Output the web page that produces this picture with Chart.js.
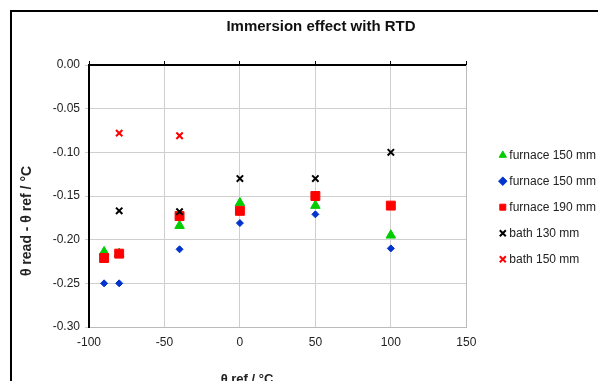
<!DOCTYPE html>
<html>
<head>
<meta charset="utf-8">
<script src="https://cdn.jsdelivr.net/npm/chart.js@4"></script>
<style>
  html, body { margin: 0; padding: 0; background: #fff; overflow: hidden; }
  #wrap { position: relative; width: 598px; height: 381px; }
  #frame { position: absolute; left: 10px; top: 10px; width: 700px; height: 500px;
           border: 2px solid #000; pointer-events: none; }
</style>
</head>
<body>
<div id="wrap">
  <canvas id="chart" width="598" height="381"></canvas>
  <div id="frame"></div>
</div>
<script>
// values
const seriesNames = ["furnace 150 mm", "furnace 150 mm", "furnace 190 mm", "bath 130 mm", "bath 150 mm"];
const tempsFurnace = [-90, -80, -40, 0, 50, 100];
const furnace150a = [-0.214, -0.216, -0.184, -0.158, -0.161, -0.195];
const furnace150b = [-0.250, -0.250, -0.211, -0.181, -0.171, -0.210];
const furnace190 = [-0.221, -0.216, -0.173, -0.167, -0.150, -0.161];
const tempsBath130 = [-80, -40, 0, 50, 100];
const bath130 = [-0.167, -0.168, -0.130, -0.130, -0.100];
const tempsBath150 = [-80, -40];
const bath150 = [-0.078, -0.081];

const xTicks = [-100, -50, 0, 50, 100, 150];
const yTicks = [0, -0.05, -0.10, -0.15, -0.20, -0.25, -0.30];

function pts(xs, ys) {
  return xs.map((x, i) => ({ x: x, y: ys[i] }));
}

Chart.defaults.font.family = "'Liberation Sans', Arial, sans-serif";
Chart.defaults.font.size = 11;
Chart.defaults.color = "#222";

const gridGray = "#cfcfcf";
const fam = "'Liberation Sans', Arial, sans-serif";

// chart title and axis titles, placed where the original has them
const texts = {
  id: "texts",
  afterDraw(chart) {
    const c = chart.ctx;
    c.save();
    c.fillStyle = "#111";
    c.textAlign = "center";
    c.textBaseline = "middle";
    c.font = "bold 15px " + fam;
    c.fillText("Immersion effect with RTD", 321, 27);
    c.fillStyle = "#222";
    c.font = "bold 13px " + fam;
    c.textBaseline = "alphabetic";
    c.fillText("θ ref / °C", 247, 383);
    c.translate(27, 221);
    c.rotate(-Math.PI / 2);
    c.textBaseline = "middle";
    c.font = "bold 14px " + fam;
    c.fillText("θ read - θ ref / °C", 0, 0);
    c.restore();
  }
};

new Chart(document.getElementById("chart"), {
  type: "scatter",
  data: {
    datasets: [
      {
        label: seriesNames[0],
        data: pts(tempsFurnace, furnace150a),
        pointStyle: "triangle",
        pointRadius: 5.5,
        backgroundColor: "#00cc00",
        borderColor: "#00cc00",
        borderWidth: 1,
        order: 5,
      },
      {
        label: seriesNames[1],
        data: pts(tempsFurnace, furnace150b),
        pointStyle: "rectRot",
        pointRadius: 3.5,
        backgroundColor: "#0033cc",
        borderColor: "#0033cc",
        borderWidth: 1,
        order: 4,
      },
      {
        label: seriesNames[2],
        data: pts(tempsFurnace, furnace190),
        pointStyle: "rect",
        pointRadius: 6.3,
        backgroundColor: "#ff0000",
        borderColor: "#ff0000",
        borderWidth: 1,
        order: 3,
      },
      {
        label: seriesNames[3],
        data: pts(tempsBath130, bath130),
        pointStyle: "crossRot",
        pointRadius: 4.5,
        backgroundColor: "#000",
        borderColor: "#000",
        borderWidth: 2,
        order: 2,
      },
      {
        label: seriesNames[4],
        data: pts(tempsBath150, bath150),
        pointStyle: "crossRot",
        pointRadius: 4.5,
        backgroundColor: "#ff0000",
        borderColor: "#ff0000",
        borderWidth: 2,
        order: 1,
      },
    ],
  },
  options: {
    responsive: false,
    animation: false,
    // legend box carries empty padding on its right, let it hang past the edge
    layout: { padding: { left: 0, right: -8, top: 0, bottom: 0 } },
    plugins: {
      title: { display: false },
      legend: {
        position: "right",
        align: "start",
        maxWidth: 140, // default cap is too narrow here and clips the text
        title: { display: true, text: " ", font: { size: 11 }, padding: { top: 0, bottom: 122 } },
        labels: {
          usePointStyle: true,
          boxWidth: 1,
          boxHeight: 6,
          padding: 14,
          color: "#222",
          font: { size: 12 },
          sort: (a, b) => a.datasetIndex - b.datasetIndex,
        },
      },
      tooltip: { enabled: false },
    },
    scales: {
      x: {
        type: "linear",
        position: "bottom",
        min: xTicks[0],
        max: xTicks[xTicks.length - 1],
        afterBuildTicks: (s) => { s.ticks = xTicks.map(v => ({ value: v })); },
        afterFit: (s) => { s.height = 54; },
        grid: { color: gridGray, drawTicks: false },
        border: { color: "#bbb", width: 1 },
        ticks: { padding: 8, color: "#222", font: { size: 12 } },
      },
      x2: {
        type: "linear",
        position: "top",
        min: xTicks[0],
        max: xTicks[xTicks.length - 1],
        afterBuildTicks: (s) => { s.ticks = xTicks.map(v => ({ value: v })); },
        afterFit: (s) => { s.height = 65; },
        grid: { drawOnChartArea: false, color: "#000", tickLength: 4 },
        border: { color: "#000", width: 2 },
        ticks: { display: false },
      },
      y: {
        type: "linear",
        position: "left",
        min: yTicks[yTicks.length - 1],
        max: yTicks[0],
        afterBuildTicks: (s) => { s.ticks = yTicks.map(v => ({ value: v })); },
        afterFit: (s) => { s.width = 89; },
        grid: { color: gridGray, tickLength: 4 },
        border: { color: "#000", width: 2 },
        ticks: { padding: 5, color: "#222", font: { size: 12 }, callback: (v) => v.toFixed(2) },
      },
      y2: {
        type: "linear",
        position: "right",
        min: yTicks[yTicks.length - 1],
        max: yTicks[0],
        afterFit: (s) => { s.width = 22; },
        grid: { drawOnChartArea: false, drawTicks: false },
        border: { color: "#bbb", width: 1 },
        ticks: { display: false },
      },
    },
  },
  plugins: [texts],
});
</script>
</body>
</html>
